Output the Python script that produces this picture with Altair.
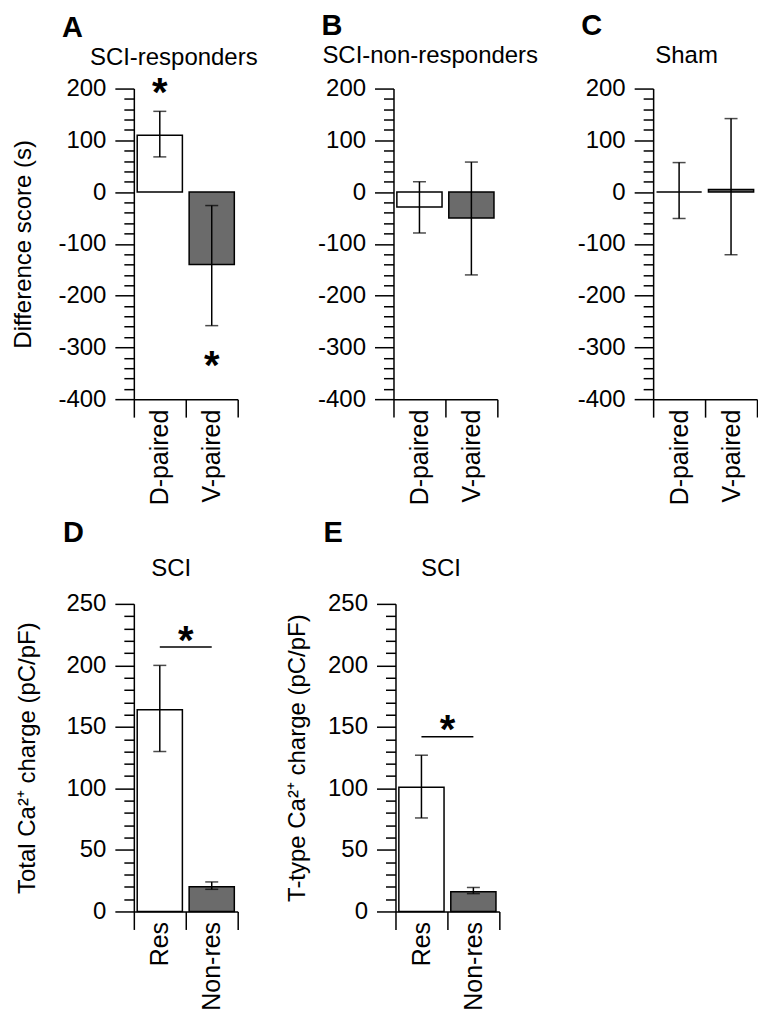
import altair as alt
import pandas as pd

FONT = "Liberation Sans, Arial, Helvetica, sans-serif"
FS = 24
XFS = 25

top_groups = ["D-paired", "V-paired"]
bottom_groups = ["Res", "Non-res"]
bar_fills = ["#ffffff", "#6b6b6b"]

# Panel A: SCI-responders
A_mean = [110, -140]
A_low = [68, -258]
A_high = [156, -26]
A_star_groups = ["D-paired", "V-paired"]
A_star_y = [208, -319]

# Panel B: SCI-non-responders
B_mean = [-29, -50]
B_low = [-79, -160]
B_high = [20, 58]

# Panel C: Sham
C_mean = [0, 5]
C_low = [-51, -121]
C_high = [57, 142]

# Panel D: Total Ca charge
D_mean = [164, 20]
D_low = [130, 18]
D_high = [200, 24]
D_sig_y = 215
D_star_y = 227

# Panel E: T-type Ca charge
E_mean = [101, 16]
E_low = [76, 14.5]
E_high = [127, 19.5]
E_sig_y = 142
E_star_y = 155


def axis_common():
    return dict(domainColor="black", tickColor="black", labelColor="black",
                titleColor="black", labelFont=FONT, titleFont=FONT,
                labelFontSize=FS, titleFontSize=FS, titleFontWeight="normal",
                domainWidth=1.5, tickWidth=1.5, grid=False)


def panel(cats, mean, low, high, ydom, major, minor, height, ytitle, title_pad,
          subtitle, sub_dx, sub_offset, letter, letter_dx, letter_offset,
          stars=None, sig=None):
    df = pd.DataFrame({"group": cats, "mean": mean, "low": low, "high": high,
                       "fill": bar_fills})
    xscale = alt.Scale(domain=cats, paddingInner=0, paddingOuter=0)
    xc = axis_common()
    xc["labelFontSize"] = XFS
    x_axis = alt.Axis(tickBand="extent", labelAngle=270, tickSize=18,
                      labelPadding=-8, labelAlign="right",
                      labelBaseline="middle", **xc)
    ticks = list(range(ydom[0], ydom[1] + 1, minor))
    y_axis = alt.Axis(values=ticks,
                      labelExpr=f"datum.value % {major} === 0 ? replace(datum.label, '−', '-') : ''",
                      tickSize={"condition": {"test": f"datum.value % {major} === 0",
                                              "value": 19}, "value": 10},
                      labelPadding=9, titlePadding=title_pad, labelOverlap=False,
                      labelFlush=False, **axis_common())
    yscale = alt.Scale(domain=ydom, nice=False, zero=False)
    yt = ytitle if ytitle else None

    def X(field):
        return alt.X(field, sort=cats, title=None, scale=xscale, axis=x_axis)

    def Y(field):
        return alt.Y(field, title=yt, scale=yscale, axis=y_axis)

    base = alt.Chart(df)
    bars = base.mark_bar(width={"band": 0.87}, stroke="black", strokeWidth=1.5).encode(
        x=X("group:N"), y=Y("mean:Q"), y2=alt.datum(0),
        fill=alt.Fill("fill:N", scale=None))
    err = base.mark_rule(strokeWidth=1.5, color="black").encode(
        x=X("group:N"), y=Y("low:Q"), y2="high:Q")
    caps = base.transform_fold(["low", "high"], as_=["k", "v"]).mark_tick(
        size=13, thickness=1.5, color="black").encode(
        x=X("group:N"), y=Y("v:Q"))
    layers = [bars, err, caps]
    if stars is not None:
        sdf = pd.DataFrame({"group": stars[0], "y": stars[1]})
        layers.append(alt.Chart(sdf).mark_text(
            text="*", fontSize=40, fontWeight="bold", font=FONT, baseline="middle",
            dy=10, color="black").encode(
            x=alt.X("group:N", sort=cats, title=None, scale=xscale, axis=x_axis,
                    bandPosition=stars[2]),
            y=Y("y:Q")))
    if sig is not None:
        gdf = pd.DataFrame({"a": [cats[0]], "b": [cats[1]], "y": [sig]})
        layers.append(alt.Chart(gdf).mark_rule(strokeWidth=1.5, color="black").encode(
            x=X("a:N"), x2="b:N", y=Y("y:Q")))
    lay = alt.layer(*layers).properties(
        width=104, height=height,
        title=alt.TitleParams(subtitle, font=FONT, fontSize=FS, fontWeight="normal",
                              anchor="middle", frame="group", dx=sub_dx,
                              offset=sub_offset, color="black"))
    return alt.vconcat(lay, title=alt.TitleParams(
        letter, font=FONT, fontSize=29, fontWeight="bold", anchor="start",
        dx=letter_dx, offset=letter_offset, color="black"))


pA = panel(top_groups, A_mean, A_low, A_high, [-400, 200], 100, 20, 311,
           "Difference score (s)", 22, "SCI-responders", -12, 4.5, "A", 50, 3,
           stars=(A_star_groups, A_star_y, 0.5))
pB = panel(top_groups, B_mean, B_low, B_high, [-400, 200], 100, 20, 311,
           None, 10, "SCI-non-responders", -15.2, 8.5, "B", 4, 3)
pC = panel(top_groups, C_mean, C_low, C_high, [-400, 200], 100, 20, 311,
           None, 10, "Sham", -18.5, 8.5, "C", 4, 3)
pD = panel(bottom_groups, D_mean, D_low, D_high, [0, 250], 50, 10, 308,
           "Total Ca²⁺ charge (pC/pF)", 26, "SCI", -14.5, 11, "D", 47, 9,
           stars=(["Non-res"], [D_star_y], 0), sig=D_sig_y)
pE = panel(bottom_groups, E_mean, E_low, E_high, [0, 250], 50, 10, 308,
           "T-type Ca²⁺ charge (pC/pF)", 18, "SCI", -6.5, 11, "E", 38, 9,
           stars=(["Non-res"], [E_star_y], 0), sig=E_sig_y)

row1 = alt.hconcat(alt.hconcat(pA, pB, spacing=58), pC, spacing=38)
row2 = alt.hconcat(pD, pE, spacing=46)

chart = alt.vconcat(row1, row2, spacing=14).properties(
    padding={"left": 3, "top": 3, "right": 0, "bottom": 0},
    background="white").configure_view(stroke=None)

chart.save("out.html", embed_options={"renderer": "svg", "actions": False})
